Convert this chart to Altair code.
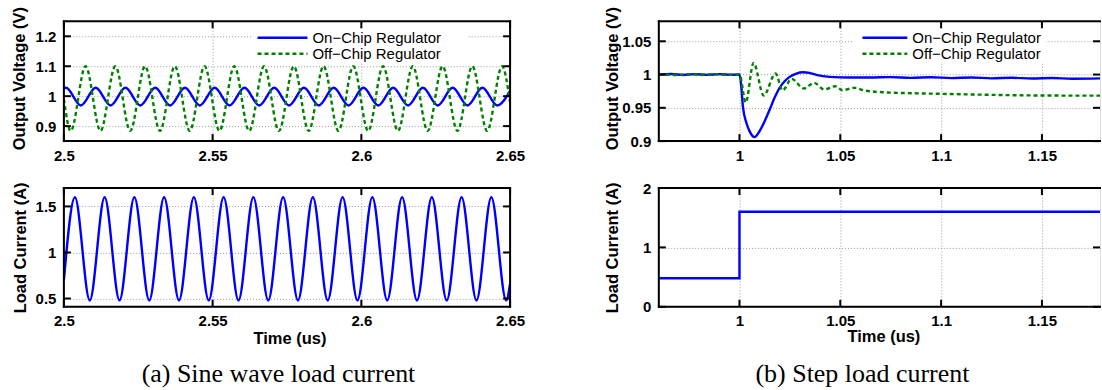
import altair as alt
import pandas as pd

# ---------------- (a) sine-wave load current ----------------
# Waveform turning points (time in us, value), with the start and end of the window.
sine_load_t = [2.5000,
               2.5037, 2.5087, 2.5137, 2.5187, 2.5237, 2.5287, 2.5337, 2.5387, 2.5437, 2.5487,
               2.5537, 2.5587, 2.5637, 2.5687, 2.5737, 2.5787, 2.5837, 2.5887, 2.5937, 2.5987,
               2.6037, 2.6087, 2.6137, 2.6187, 2.6237, 2.6287, 2.6337, 2.6387, 2.6437, 2.6487,
               2.6500]
sine_load_i = [0.70,
               1.60, 0.48, 1.60, 0.48, 1.60, 0.48, 1.60, 0.48, 1.60, 0.48,
               1.60, 0.48, 1.60, 0.48, 1.60, 0.48, 1.60, 0.48, 1.60, 0.48,
               1.60, 0.48, 1.60, 0.48, 1.60, 0.48, 1.60, 0.48, 1.60, 0.48,
               0.66]

sine_on_t = [2.5000,
             2.5007, 2.5057, 2.5107, 2.5157, 2.5207, 2.5257, 2.5307, 2.5357, 2.5407, 2.5457,
             2.5507, 2.5557, 2.5607, 2.5657, 2.5707, 2.5757, 2.5807, 2.5857, 2.5907, 2.5957,
             2.6007, 2.6057, 2.6107, 2.6157, 2.6207, 2.6257, 2.6307, 2.6357, 2.6407, 2.6457,
             2.6500]
sine_on_v = [1.026,
             1.028, 0.969, 1.028, 0.969, 1.028, 0.969, 1.028, 0.969, 1.028, 0.969,
             1.028, 0.969, 1.028, 0.969, 1.028, 0.969, 1.028, 0.969, 1.028, 0.969,
             1.028, 0.969, 1.028, 0.969, 1.028, 0.969, 1.028, 0.969, 1.028, 0.969,
             1.018]

sine_off_t = [2.5000,
              2.5023, 2.5073, 2.5123, 2.5173, 2.5223, 2.5273, 2.5323, 2.5373, 2.5423, 2.5473,
              2.5523, 2.5573, 2.5623, 2.5673, 2.5723, 2.5773, 2.5823, 2.5873, 2.5923, 2.5973,
              2.6023, 2.6073, 2.6123, 2.6173, 2.6223, 2.6273, 2.6323, 2.6373, 2.6423, 2.6473,
              2.6500]
sine_off_v = [0.990,
              0.884, 1.100, 0.884, 1.100, 0.884, 1.100, 0.884, 1.100, 0.884, 1.100,
              0.884, 1.100, 0.884, 1.100, 0.884, 1.100, 0.884, 1.100, 0.884, 1.100,
              0.884, 1.100, 0.884, 1.100, 0.884, 1.100, 0.884, 1.100, 0.884, 1.100,
              0.979]

# ---------------- (b) step load current ----------------
step_load_t = [0.960, 1.000, 1.000, 1.1788]
step_load_i = [0.48, 0.48, 1.60, 1.60]

step_on_t = [0.960, 0.966, 0.972, 0.978, 0.984, 0.990, 0.996, 1.0000,
             1.0009, 1.0017, 1.0034, 1.0050, 1.0075, 1.0100, 1.0125, 1.0150, 1.0174, 1.0199,
             1.0224, 1.0249, 1.0282, 1.0314, 1.0347, 1.0381, 1.0447, 1.0546, 1.0645,
             1.075, 1.085, 1.095, 1.105, 1.115, 1.125, 1.135, 1.145, 1.155, 1.165, 1.1788]
step_on_v = [1.0000, 1.0008, 0.9994, 1.0007, 0.9995, 1.0006, 0.9996, 1.0000,
             0.9825, 0.952, 0.928, 0.915, 0.906, 0.915, 0.930, 0.9475, 0.965, 0.980,
             0.990, 0.9965, 1.0015, 1.0035, 1.0025, 0.9995, 0.9965, 0.9955, 0.9955,
             0.9962, 0.9950, 0.9960, 0.9947, 0.9956, 0.9943, 0.9952, 0.9940, 0.9949, 0.9937, 0.9942]

step_off_t = [0.960, 0.969, 0.975, 0.981, 0.987, 0.993, 1.0000,
              1.0031, 1.0070, 1.0120, 1.0179, 1.0214, 1.0258, 1.0320, 1.0370, 1.0420, 1.0475,
              1.0510, 1.0570, 1.0620, 1.0709, 1.085, 1.1006, 1.125, 1.1506, 1.1788]
step_off_v = [1.0000, 0.9993, 1.0006, 0.9994, 1.0006, 0.9995, 1.0000,
              0.958, 1.0175, 0.9685, 1.0015, 0.976, 0.9935, 0.979, 0.9875, 0.9775, 0.9825,
              0.9765, 0.980, 0.976, 0.9735, 0.972, 0.971, 0.9695, 0.9685, 0.9683]

# ---------------- ticks, labels ----------------
a_time_ticks = [2.5, 2.55, 2.6, 2.65]
a_volt_ticks = [0.9, 1.0, 1.1, 1.2]
a_curr_ticks = [0.5, 1.0, 1.5]
b_time_ticks = [1.0, 1.05, 1.1, 1.15]
b_volt_ticks = [0.9, 0.95, 1.0, 1.05]
b_curr_ticks = [0, 1, 2]

legend_labels = ["On\u2212Chip Regulator", "Off\u2212Chip Regulator"]
captions = ["(a) Sine wave load current", "(b) Step load current"]
volt_title = "Output Voltage (V)"
curr_title = "Load Current (A)"
time_title = "Time (us)"

FONT = "Liberation Sans"
SERIF = "Liberation Serif"
BLUE = "#0000ff"
GREEN = "#008000"
LW = 2.4
TICK = 7
TITLE_SIZE = 16.5
one = pd.DataFrame({"k": [0]})


def panel(series, xdom, ydom, xticks, yticks, W, H, ytitle, ytitle_x, ytitle_y,
          xtitle=None, xtitle_y=0, xtitle_x=None, legend=None, right_edge=True, caption=None):
    common = dict(format="~g", grid=True, gridDash=[1, 2], gridColor="#9a9a9a", gridWidth=1,
                  ticks=False, tickSize=0, domain=False, labelFont=FONT, labelFontWeight="bold",
                  labelFontSize=15, labelColor="black", labelFlush=False, labelOverlap=False)
    xkw = dict(common, values=xticks, labelPadding=7)
    if xtitle:
        xkw.update(titleFont=FONT, titleFontWeight="bold", titleFontSize=TITLE_SIZE,
                   titleColor="black",
                   titleX=xtitle_x if xtitle_x is not None else W / 2, titleY=xtitle_y,
                   titleAlign="center", titleBaseline="middle")
    ykw = dict(common, values=yticks, labelPadding=8,
               titleFont=FONT, titleFontWeight="bold", titleFontSize=TITLE_SIZE, titleColor="black",
               titleX=ytitle_x, titleY=ytitle_y, titleAngle=270, titleAlign="center",
               titleBaseline="middle")
    X = alt.X("x:Q", title=xtitle if xtitle else None,
              scale=alt.Scale(domain=xdom, nice=False, zero=False), axis=alt.Axis(**xkw))
    Y = alt.Y("y:Q", title=ytitle,
              scale=alt.Scale(domain=ydom, nice=False, zero=False), axis=alt.Axis(**ykw))

    layers = []
    for s in series:
        df = pd.DataFrame({"x": s["t"], "y": s["v"], "i": list(range(len(s["t"])))})
        mk = dict(color=s["color"], strokeWidth=LW, interpolate=s["interp"], clip=True)
        if "dash" in s:
            mk["strokeDash"] = s["dash"]
        layers.append(alt.Chart(df).mark_line(**mk).encode(x=X, y=Y, order="i:Q"))

    if legend:
        bx0, bx1, by0, by1, lx0, lx1, tx, ly = legend
        layers.append(alt.Chart(one).mark_rect(color="white").encode(
            x=alt.value(bx0), x2=alt.value(bx1), y=alt.value(by0), y2=alt.value(by1)))
        for k, (lab, col) in enumerate(zip(legend_labels, [BLUE, GREEN])):
            rk = dict(color=col, strokeWidth=LW)
            if k == 1:
                rk["strokeDash"] = [4, 3]
            layers.append(alt.Chart(one).mark_rule(**rk).encode(
                x=alt.value(lx0), x2=alt.value(lx1), y=alt.value(ly + 16 * k)))
            layers.append(alt.Chart(one).mark_text(
                align="left", baseline="middle", font=FONT, fontSize=15, color="black").encode(
                x=alt.value(tx), y=alt.value(ly + 16 * k), text=alt.value(lab)))

    # inward tick marks on every side
    yt = pd.DataFrame({"y": yticks})
    xt = pd.DataFrame({"x": xticks})
    tk = dict(color="black", strokeWidth=2)
    layers.append(alt.Chart(yt).mark_rule(**tk).encode(y=Y, x=alt.value(0), x2=alt.value(TICK)))
    layers.append(alt.Chart(yt).mark_rule(**tk).encode(y=Y, x=alt.value(W - TICK), x2=alt.value(W)))
    layers.append(alt.Chart(xt).mark_rule(**tk).encode(x=X, y=alt.value(H - TICK), y2=alt.value(H)))
    layers.append(alt.Chart(xt).mark_rule(**tk).encode(x=X, y=alt.value(0), y2=alt.value(TICK)))

    # axes box
    fr = dict(color="black", strokeWidth=2, strokeCap="square")
    layers.append(alt.Chart(one).mark_rule(**fr).encode(x=alt.value(0), y=alt.value(0), y2=alt.value(H)))
    layers.append(alt.Chart(one).mark_rule(**fr).encode(y=alt.value(0), x=alt.value(0), x2=alt.value(W)))
    layers.append(alt.Chart(one).mark_rule(**fr).encode(y=alt.value(H), x=alt.value(0), x2=alt.value(W)))
    if right_edge:
        layers.append(alt.Chart(one).mark_rule(**fr).encode(x=alt.value(W), y=alt.value(0), y2=alt.value(H)))

    if caption:
        text, cx, cy = caption
        layers.append(alt.Chart(one).mark_text(
            align="center", baseline="middle", font=SERIF, fontSize=26, color="black").encode(
            x=alt.value(cx), y=alt.value(cy), text=alt.value(text)))

    return alt.layer(*layers).properties(width=W, height=H)


WA, WB, HT, HB = 447, 442, 120, 119

top_a = panel(
    [dict(t=sine_on_t, v=sine_on_v, color=BLUE, interp="monotone"),
     dict(t=sine_off_t, v=sine_off_v, color=GREEN, interp="monotone", dash=[4, 3])],
    [2.5, 2.65], [0.85, 1.25], a_time_ticks, a_volt_ticks, WA, HT, volt_title, -44, 57,
    legend=(189, 405, 3, 41, 194, 244, 249, 16.5))

bot_a = panel(
    [dict(t=sine_load_t, v=sine_load_i, color=BLUE, interp="monotone")],
    [2.5, 2.65], [0.41, 1.7], a_time_ticks, a_curr_ticks, WA, HB, curr_title, -43, HB / 2,
    xtitle=time_title, xtitle_y=32, xtitle_x=226, caption=(captions[0], 215, 186))

top_b = panel(
    [dict(t=step_on_t, v=step_on_v, color=BLUE, interp="monotone"),
     dict(t=step_off_t, v=step_off_v, color=GREEN, interp="monotone", dash=[4, 3])],
    [0.96, 1.1788], [0.9, 1.08], b_time_ticks, b_volt_ticks, WB, HT, volt_title, -46, 57,
    legend=(194, 388, 3, 41, 204, 249, 254, 16.5), right_edge=False)

bot_b = panel(
    [dict(t=step_load_t, v=step_load_i, color=BLUE, interp="linear")],
    [0.96, 1.1788], [0, 2], b_time_ticks, b_curr_ticks, WB, HB, curr_title, -46, HB / 2,
    xtitle=time_title, xtitle_y=30, xtitle_x=225, right_edge=False,
    caption=(captions[1], 204, 186))

chart = alt.concat(
    top_a, top_b, bot_a, bot_b, columns=2, bounds="flush", align="each",
    spacing={"row": 47, "column": 149},
).properties(
    padding={"left": 11, "top": 5, "right": 0, "bottom": 0}
).configure_view(stroke=None).configure(background="white")

chart.save("out.html", embed_options={"renderer": "svg", "actions": False})
